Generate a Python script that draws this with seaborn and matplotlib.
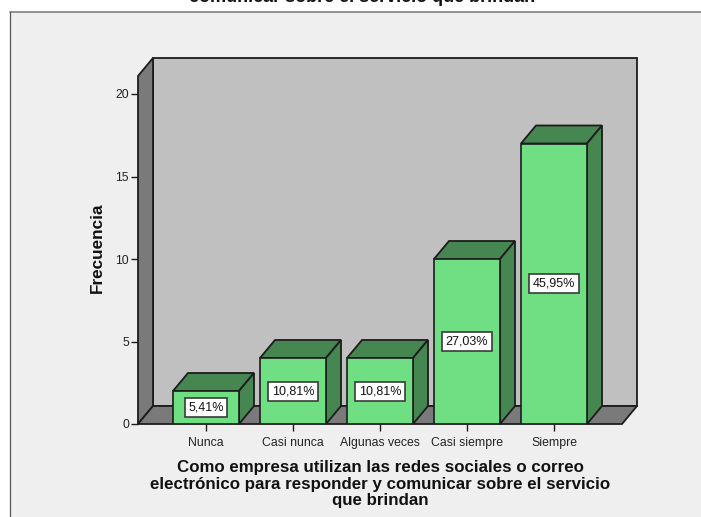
import matplotlib
matplotlib.use("Agg")
import matplotlib.pyplot as plt
from matplotlib.patches import Polygon, Rectangle
import seaborn as sns
import pandas as pd

categories = ["Nunca", "Casi nunca", "Algunas veces", "Casi siempre", "Siempre"]
counts = [2, 4, 4, 10, 17]
percent_labels = ["5,41%", "10,81%", "10,81%", "27,03%", "45,95%"]
y_ticks = [0, 5, 10, 15, 20]
title_text = "comunicar sobre el servicio que brindan"
x_label = ("Como empresa utilizan las redes sociales o correo\n"
           "electrónico para responder y comunicar sobre el servicio\n"
           "que brindan")
y_label = "Frecuencia"

W, H = 701, 517
FRONT = "#70DF84"
SHADE = "#458651"
WALL = "#C0C0C0"
DARK = "#7A7A7A"
PANEL = "#EFEFEF"
EDGE = "#1c1c1c"
TEXT = "#222222"

sns.set_theme(style="white")
plt.rcParams["font.family"] = ["Liberation Sans", "DejaVu Sans"]

fig = plt.figure(figsize=(W / 100, H / 100), dpi=100, facecolor="white")
fig.add_artist(Rectangle((10 / W, 0), 1, 1 - 11.5 / H, transform=fig.transFigure,
                         facecolor=PANEL, edgecolor="none", zorder=-3))
fig.add_artist(plt.Line2D([10 / W, 1], [1 - 11.5 / H] * 2, color="#8a8a8a", lw=1.3, zorder=-2))
fig.add_artist(plt.Line2D([10 / W, 10 / W], [0, 1 - 11.5 / H], color="#555555", lw=0.9, zorder=-2))

ax = fig.add_axes([138 / W, (H - 424) / H, 484 / W, 348 / H])
ax.patch.set_alpha(0)
xmin, xmax = -68 / 87, 416 / 87
ymin, ymax = 0, 348 / 16.5
dx, dy = 15 / 87, 18 / 16.5
bar_w = 66 / 87

df = pd.DataFrame({"cat": categories, "n": counts})
sns.barplot(data=df, x="cat", y="n", order=categories, color=FRONT, saturation=1,
            width=bar_w, edgecolor=EDGE, linewidth=1.2, ax=ax, zorder=5)
ax.set_xlim(xmin, xmax)
ax.set_ylim(ymin, ymax)

# 3-D room
line = dict(edgecolor=EDGE, linewidth=1.3, clip_on=False)
ax.add_patch(Polygon([(xmin + dx, dy), (xmax + dx, dy), (xmax + dx, ymax + dy), (xmin + dx, ymax + dy)],
                     facecolor=WALL, zorder=1, **line))
ax.add_patch(Polygon([(xmin, 0), (xmin + dx, dy), (xmin + dx, ymax + dy), (xmin, ymax)],
                     facecolor=DARK, zorder=2, **line))
ax.add_patch(Polygon([(xmin, 0), (xmax, 0), (xmax + dx, dy), (xmin + dx, dy)],
                     facecolor=DARK, zorder=2, **line))

# 3-D bar sides and tops
for i, (v, lab) in enumerate(zip(counts, percent_labels)):
    l, r = i - bar_w / 2, i + bar_w / 2
    ax.add_patch(Polygon([(l, v), (r, v), (r + dx, v + dy), (l + dx, v + dy)],
                         facecolor=SHADE, zorder=4, **line))
    ax.add_patch(Polygon([(r, 0), (r + dx, dy), (r + dx, v + dy), (r, v)],
                         facecolor=SHADE, zorder=4, **line))
    ax.text(i, v / 2, lab, ha="center", va="center", fontsize=9, color="#111111", zorder=7,
            bbox=dict(boxstyle="square,pad=0.28", facecolor="white", edgecolor="#3a3a3a", linewidth=1.2))

ax.set_yticks(y_ticks)
ax.set_xlabel("")
ax.set_ylabel("")
ax.tick_params(axis="both", length=5, width=1, color=EDGE, labelsize=8.8, labelcolor=TEXT,
               left=True, bottom=True)
ax.tick_params(axis="y", pad=1.5)
ax.tick_params(axis="x", pad=4.5)
for s in ax.spines.values():
    s.set_visible(False)

fig.text(362 / W, 1 - 2.5 / H, title_text, ha="center", va="baseline", fontsize=13.0,
         fontweight="bold", color="#111111")
fig.text(380 / W, 1 - 484 / H, x_label, ha="center", va="center", fontsize=12.2,
         fontweight="bold", color="#111111", linespacing=1.12)
fig.text(97 / W, 1 - 248 / H, y_label, ha="center", va="center", rotation=90, fontsize=12.3,
         fontweight="bold", color="#111111")

fig.savefig("out.png", dpi=100, facecolor=fig.get_facecolor())
